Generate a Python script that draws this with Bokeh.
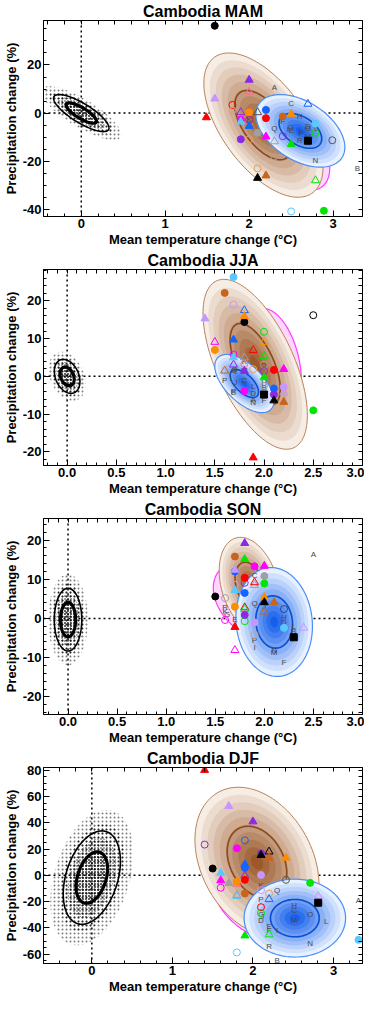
import numpy as np
from bokeh.plotting import figure
from bokeh.layouts import column
from bokeh.models import Range1d, LinearAxis, FixedTicker, Span, ColumnDataSource, PrintfTickFormatter
from bokeh.embed import file_html
from bokeh.resources import INLINE
from bokeh.core.properties import value

FONT = "Liberation Sans"

# ------------------------------------------------------------------ data
titles = ["Cambodia MAM", "Cambodia JJA", "Cambodia SON", "Cambodia DJF"]
x_label = "Mean temperature change (\u00b0C)"
y_label = "Precipitation change (%)"

x_ranges = [(-0.45, 3.35), (-0.24, 3.0), (-0.25, 3.0), (-0.6, 3.36)]
y_ranges = [(-43, 38.5), (-23.6, 28.3), (-24.5, 25.5), (-67, 82)]
x_ticks = [[0, 1, 2, 3], [0, 0.5, 1, 1.5, 2, 2.5, 3], [0, 0.5, 1, 1.5, 2, 2.5, 3], [0, 1, 2, 3]]
y_ticks = [[-40, -20, 0, 20], [-20, -10, 0, 10, 20], [-20, -10, 0, 10, 20], [-60, -40, -20, 0, 20, 40, 60, 80]]
x_fmt = ["%.0f", "%.1f", "%.1f", "%.0f"]
x_minor = [0.2, 0.1, 0.1, 0.2]
y_minor = [5, 2, 2, 5]

# ellipse parameters: mean x, mean y, half-extent x, half-extent y, correlation (outer contour)
nat_ell = [[0.0, 0.0, 0.33, 7.7, -0.8], [0.0, 0.0, 0.13, 4.5, -0.3],
           [0.0, -0.3, 0.14, 8.0, 0.0], [0.0, -1.7, 0.355, 35.5, 0.35]]
brown_ell = [[2.17, -5.0, 0.71, 30.0, -0.58], [1.91, 3.2, 0.53, 22.5, -0.6],
             [1.85, 8.5, 0.31, 12.2, -0.3], [2.05, 10.0, 0.77, 57.0, -0.3]]
blue_ell = [[2.61, -7.4, 0.53, 15.1, -0.45], [1.8, -1.9, 0.3, 7.7, -0.6],
            [2.1, -0.9, 0.39, 13.9, -0.08], [2.52, -32.5, 0.63, 29.6, 0.0]]
mag_ell = [[2.4, -9.0, 0.56, 23.0, -0.6], [2.08, 3.0, 0.3, 15.0, -0.3],
           [1.85, 4.5, 0.37, 9.5, -0.35], [2.15, -10.0, 0.68, 40.0, -0.25]]

# model markers: x, y, kind (o filled circle, O open circle, t filled triangle, T open triangle, s square), colour key
mam_mx = [1.59, 1.49, 1.59, 1.80, 1.80, 2.0, 2.0, 1.9, 2.0, 2.1, 1.9, 1.9, 2.0, 2.0, 2.1, 1.9, 2.0, 2.2, 2.2, 2.2,
          2.3, 2.3, 2.1, 2.1, 2.2, 2.4, 2.5, 2.4, 2.5, 2.7, 2.79, 2.79, 2.99, 2.79, 2.5, 2.89, 2.7]
mam_my = [36.3, -1.8, 6.0, 3.4, 1.0, 13.8, 8.8, 0.3, 0.3, 0.3, -2.8, -3.6, -2.8, -5.4, -8.2, -10.9, -10.9, -9.8, 1.3, -2.1,
          -11.8, -18.0, -23.0, -27.0, -26.0, -1.4, -0.4, -9.6, -13.0, 3.8, -4.4, -8.2, -11.3, -28.0, -40.9, -40.6, -11.5]
mam_mk = ["o", "t", "t", "O", "O", "t", "T", "T", "o", "T", "o", "t", "O", "t", "o", "o", "O", "t", "o", "o",
          "T", "O", "O", "t", "t", "o", "t", "O", "t", "T", "o", "O", "O", "T", "O", "o", "s"]
mam_mc = ["k", "r", "lp", "r", "lo", "p", "pk", "p", "o", "dg", "m", "lb", "dm", "b", "gr", "p", "lo", "m", "b", "r",
          "gr", "gr", "lo", "k", "br", "br", "o", "p", "g", "b", "lb", "g", "dg", "g", "lb", "g", "k"]
mam_lx = [2.3, 3.29, 2.5, 2.7, 2.5, 2.4, 2.5, 2.6, 2.46, 2.6, 2.0, 2.8, 2.7, 2.79, 2.7, 2.62, 2.3, 2.6]
mam_ly = [10.5, -23.0, 3.8, -5.5, -7.4, -3.5, -6.0, -1.6, -7.0, -7.5, -2.8, -6.6, -9.6, -19.6, -6.3, -8.5, -6.4, -11.5]
mam_lt = ["A", "B", "C", "D", "E", "F", "G", "H", "I", "J", "K", "L", "M", "N", "O", "P", "Q", "R"]

jja_mx = [1.69, 1.6, 1.69, 1.8, 1.8, 1.8, 1.40, 1.5, 1.5, 1.69, 2.0, 2.0, 1.89, 2.0, 1.69, 1.69, 1.8, 1.6, 1.69, 1.8,
          1.8, 2.0, 2.0, 2.1, 2.2, 2.0, 1.89, 2.1, 2.2, 2.2, 1.8, 2.0, 2.1, 2.1, 2.2, 2.5, 2.5, 1.89, 2.0]
jja_my = [26.3, 22.1, 19.0, 17.5, 15.9, 14.4, 15.3, 9.1, 7.0, 9.7, 11.8, 9.1, 6.9, 5.3, 5.8, 5.0, 5.0, 1.5, 3.1, 3.3,
          1.4, 3.1, 1.4, 1.7, 1.9, -0.3, 1.9, -3.2, -2.8, -4.3, -3.9, -4.8, -4.8, -6.4, -6.8, 16.2, -9.0, -21.5, -2.5]
jja_mk = ["o", "o", "O", "T", "t", "o", "t", "T", "o", "t", "O", "T", "T", "T", "O", "t", "T", "T", "T", "O",
          "t", "O", "O", "o", "t", "t", "O", "o", "o", "T", "o", "s", "o", "t", "t", "O", "o", "t", "O"]
jja_mc = ["lb", "br", "lp", "b", "o", "k", "lp", "m", "o", "b", "g", "o", "r", "g", "m", "lb", "gr", "br", "p", "pk",
          "p", "gr", "p", "r", "m", "g", "lo", "b", "lp", "lp", "m", "k", "p", "k", "br", "k", "g", "r", "gr"]
jja_lx = [1.89, 2.0, 1.8, 1.89, 1.69, 2.0, 1.69, 2.0, 1.66, 1.71, 1.8, 1.89, 1.8, 1.89, 1.99, 1.6, 1.7, 1.69]
jja_ly = [-6.0, -2.9, -1.2, -4.6, -4.4, -6.4, 1.6, -1.6, -0.6, -1.6, 4.0, -2.8, 1.5, -6.9, 2.8, -1.2, 1.9, -4.1]
jja_lt = ["A", "B", "C", "D", "E", "F", "G", "H", "I", "J", "K", "L", "M", "N", "O", "P", "Q", "R"]

son_mx = [1.8, 1.7, 1.8, 1.9, 2.0, 1.7, 1.7, 1.8, 1.8, 1.9, 1.9, 1.7, 2.0, 2.0, 1.7, 1.8, 1.5, 1.6, 2.0, 2.0,
          2.1, 1.7, 1.8, 1.8, 1.8, 1.8, 1.6, 1.7, 1.7, 1.9, 1.9, 2.0, 2.2, 2.2, 2.3, 2.4]
son_my = [19.2, 15.8, 15.1, 13.3, 13.4, 12.0, 12.4, 10.4, 9.1, 8.5, 9.2, 8.6, 10.8, 8.9, 7.2, 6.5, 5.6, 5.2, 5.4, 4.1,
          4.1, 3.0, 2.8, 2.4, 0.9, -0.7, -0.4, -2.2, -8.1, -1.0, -4.2, 1.7, 2.4, -2.4, -4.8, -2.4]
son_mk = ["t", "o", "t", "o", "t", "o", "t", "o", "O", "T", "T", "O", "o", "o", "t", "o", "o", "O", "t", "t",
          "t", "o", "T", "T", "o", "O", "O", "t", "T", "o", "O", "T", "O", "o", "s", "T"]
son_mc = ["p", "br", "g", "m", "m", "b", "lp", "r", "p", "gr", "r", "lp", "gr", "g", "lb", "b", "k", "gr", "o", "k",
          "br", "o", "r", "g", "p", "g", "m", "r", "m", "lp", "lo", "br", "nv", "lb", "k", "lp"]
son_lx = [2.5, 2.3, 1.9, 2.2, 1.7, 2.2, 1.62, 2.2, 1.9, 2.0, 1.6, 2.3, 2.1, 2.1, 2.0, 1.9, 1.9, 1.6]
son_ly = [16.3, -3.3, 10.9, -1.1, -0.3, -11.2, 1.0, 0.2, -7.5, 3.0, 1.9, -2.0, -8.7, -8.3, 5.0, -5.5, 3.7, 2.8]
son_lt = ["A", "B", "C", "D", "E", "F", "G", "H", "I", "J", "K", "L", "M", "N", "O", "P", "Q", "R"]

djf_mx = [1.40, 1.70, 2.0, 1.40, 1.9, 1.8, 2.1, 2.1, 2.2, 2.2, 2.41, 1.50, 1.60, 1.9, 1.9, 2.1, 1.9, 1.9, 1.6, 1.8,
          1.7, 1.8, 1.6, 1.9, 1.8, 1.8, 2.41, 2.71, 2.2, 2.2, 2.81, 2.81, 2.1, 2.1, 1.9, 2.2, 1.8, 3.31, 2.1]
djf_my = [80.0, 52.6, 40.9, 23.4, 26.6, 20.6, 16.7, 15.4, 18.0, 13.3, 13.3, 5.2, 1.8, 8.3, 5.7, 0.3, -0.3, -3.4, -3.9, -4.7,
          -6.0, -6.5, -9.4, -13.8, -15.9, -15.0, -3.4, -5.7, -13.8, -18.2, -15.9, -20.8, -24.2, -28.6, -45.8, -45.0, -58.6, -49.0, -11.2]
djf_mk = ["t", "t", "t", "O", "O", "o", "o", "t", "T", "t", "t", "o", "t", "t", "o", "o", "T", "o", "t", "o",
          "t", "T", "O", "o", "T", "T", "O", "o", "O", "T", "T", "s", "O", "O", "t", "T", "O", "o", "O"]
djf_mc = ["r", "lp", "p", "p", "b", "m", "p", "k", "k", "br", "o", "k", "lb", "b", "b", "lp", "p", "r", "m", "o",
          "gr", "pk", "m", "br", "lb", "gr", "dg", "g", "lo", "b", "lp", "k", "r", "g", "g", "g", "lb", "lb", "lp"]
djf_lx = [3.31, 2.3, 2.51, 2.1, 2.2, 2.2, 2.1, 2.51, 2.3, 2.12, 2.1, 2.91, 2.51, 2.71, 2.71, 2.1, 2.3, 2.2]
djf_ly = [-19.0, -64.6, -26.8, -34.6, -39.0, -42.0, -30.0, -23.0, -41.9, -31.0, -8.0, -35.4, -34.6, -51.6, -30.0, -18.2, -11.2, -54.4]
djf_lt = ["A", "B", "C", "D", "E", "F", "G", "H", "I", "J", "K", "L", "M", "N", "O", "P", "Q", "R"]

marker_x = [mam_mx, jja_mx, son_mx, djf_mx]
marker_y = [mam_my, jja_my, son_my, djf_my]
marker_k = [mam_mk, jja_mk, son_mk, djf_mk]
marker_c = [mam_mc, jja_mc, son_mc, djf_mc]
letter_x = [mam_lx, jja_lx, son_lx, djf_lx]
letter_y = [mam_ly, jja_ly, son_ly, djf_ly]
letter_t = [mam_lt, jja_lt, son_lt, djf_lt]

# ------------------------------------------------------------------ styles
COL = {"k": "#000000", "r": "#ff0000", "o": "#ff8c00", "br": "#c8641e", "b": "#1464ff", "lb": "#5ac8ff",
       "g": "#00e600", "m": "#ff00ff", "p": "#8c28e6", "lp": "#c896ff", "gr": "#a0a0a0", "pk": "#ff6e8c",
       "dg": "#555555", "dm": "#a01e8c", "nv": "#204a8c", "lo": "#e0a060"}


def ell(par, s, n=120):
    mx, my, ax, ay, r = par
    t = np.linspace(0, 2 * np.pi, n)
    xs = mx + s * ax * np.cos(t)
    ys = my + s * ay * (r * np.cos(t) + np.sqrt(1 - r * r) * np.sin(t))
    return list(xs), list(ys)


def mix(c0, c1, f):
    return "#%02x%02x%02x" % tuple(int(round(a + (b - a) * f)) for a, b in zip(c0, c1))


INNER = 0.48
NB = 10


def style_main(ax, ticks, minor, fmt, label):
    ax.ticker = FixedTicker(ticks=ticks, minor_ticks=minor)
    ax.major_tick_in = 6
    ax.major_tick_out = 0
    ax.minor_tick_in = 3
    ax.minor_tick_out = 0
    ax.axis_line_color = "black"
    ax.major_tick_line_color = "black"
    ax.minor_tick_line_color = "black"
    ax.formatter = PrintfTickFormatter(format=fmt)
    ax.major_label_text_font = FONT
    ax.major_label_text_font_style = "bold"
    ax.major_label_text_font_size = "13px"
    ax.major_label_text_color = "black"
    ax.major_label_standoff = 2
    ax.axis_label = label
    ax.axis_label_text_font = FONT
    ax.axis_label_text_font_style = "bold"
    ax.axis_label_text_font_size = "13px"
    ax.axis_label_text_color = "black"
    ax.axis_label_standoff = 1


def style_box(ax, minor):
    # opposite-side axis: ticks only, no labels
    ax.ticker = FixedTicker(ticks=[], minor_ticks=minor)
    ax.minor_tick_in = 4
    ax.minor_tick_out = 0
    ax.major_tick_in = 0
    ax.major_tick_out = 0
    ax.minor_tick_line_color = "black"
    ax.axis_line_color = "black"
    ax.major_label_standoff = 0


figs = []
for i in range(4):
    p = figure(width=364, height=249, x_range=Range1d(*x_ranges[i]), y_range=Range1d(*y_ranges[i]),
               output_backend="svg", toolbar_location=None, title=titles[i],
               min_border_left=4, min_border_right=2, min_border_top=2, min_border_bottom=2)
    p.title.align = "center"
    p.title.text_font = FONT
    p.title.text_font_style = "bold"
    p.title.text_font_size = "16px"
    p.title.text_color = "black"
    p.title.standoff = 1
    p.grid.visible = False
    p.outline_line_color = "black"
    p.background_fill_color = "white"

    x0, x1 = x_ranges[i]
    y0, y1 = y_ranges[i]
    xm = [float(v) for v in np.arange(np.floor(x0), x1, x_minor[i]) if x0 < v < x1]
    ym = [float(v) for v in np.arange(np.floor(y0 / 10) * 10, y1, y_minor[i]) if y0 < v < y1]
    style_main(p.xaxis[0], x_ticks[i], xm, x_fmt[i], x_label)
    style_main(p.yaxis[0], y_ticks[i], ym, "%d", y_label)
    ax_r = LinearAxis()
    style_box(ax_r, ym)
    p.add_layout(ax_r, "right")
    ax_t = LinearAxis()
    style_box(ax_t, xm)
    p.add_layout(ax_t, "above")

    for dim in ("height", "width"):
        p.add_layout(Span(location=0, dimension=dim, line_color="black", line_dash="2 3",
                          line_width=1.5, level="underlay"))

    # natural variability cloud (stippled)
    nat = nat_ell[i]
    for s, hs, ha in [(1.45, 4, 0.5), (1.15, 4, 0.7), (0.85, 3, 0.85), (0.55, 3, 1.0)]:
        xs, ys = ell(nat, s)
        p.patch(xs, ys, fill_alpha=0, line_alpha=0, hatch_pattern="dot", hatch_color="black",
                hatch_scale=hs, hatch_weight=0.4, hatch_alpha=ha)
    xs, ys = ell(nat, 1.0)
    p.line(xs, ys, line_color="black", line_width=1.6)
    xs, ys = ell(nat, 0.55)
    p.line(xs, ys, line_color="black", line_width=3.2)

    # magenta
    xs, ys = ell(mag_ell[i], 1.0)
    p.patch(xs, ys, fill_color="#ffd6ff", line_color="#ff3cff", line_width=1.2)

    # brown shaded
    for k in range(NB):
        s = 1.0 - k * (0.9 / (NB - 1))
        xs, ys = ell(brown_ell[i], s)
        p.patch(xs, ys, fill_color=mix((246, 237, 228), (155, 88, 42), k / (NB - 1)),
                line_color="#b8825a" if k == 0 else None, line_width=1)
    xs, ys = ell(brown_ell[i], INNER)
    p.line(xs, ys, line_color="#8b4a1c", line_width=1.6)

    # blue shaded
    for k in range(NB):
        s = 1.0 - k * (0.9 / (NB - 1))
        xs, ys = ell(blue_ell[i], s)
        p.patch(xs, ys, fill_color=mix((232, 241, 255), (20, 95, 235), k / (NB - 1)),
                line_color="#4b8ff5" if k == 0 else None, line_width=1.2)
    xs, ys = ell(blue_ell[i], INNER)
    p.line(xs, ys, line_color="#0a4fd0", line_width=1.6)

    # letters
    p.text(letter_x[i], letter_y[i], text=letter_t[i], text_font=value(FONT), text_font_size="8px",
           text_color="#4a4a4a", text_align="center", text_baseline="middle")

    # markers
    for kind, mk, size in [("O", "circle", 7), ("T", "triangle", 8), ("o", "circle", 7), ("t", "triangle", 8), ("s", "square", 7)]:
        idx = [j for j, kk in enumerate(marker_k[i]) if kk == kind]
        if not idx:
            continue
        src = ColumnDataSource(dict(x=[marker_x[i][j] for j in idx], y=[marker_y[i][j] for j in idx],
                                    c=[COL[marker_c[i][j]] for j in idx]))
        if kind in ("O", "T"):
            p.scatter("x", "y", source=src, marker=mk, size=size, fill_alpha=0, line_color="c", line_width=1)
        else:
            p.scatter("x", "y", source=src, marker=mk, size=size, fill_color="c", line_color="c", line_width=1)
    figs.append(p)

layout = column(*figs, spacing=0)
open("out.html", "w").write(file_html(layout, INLINE))
